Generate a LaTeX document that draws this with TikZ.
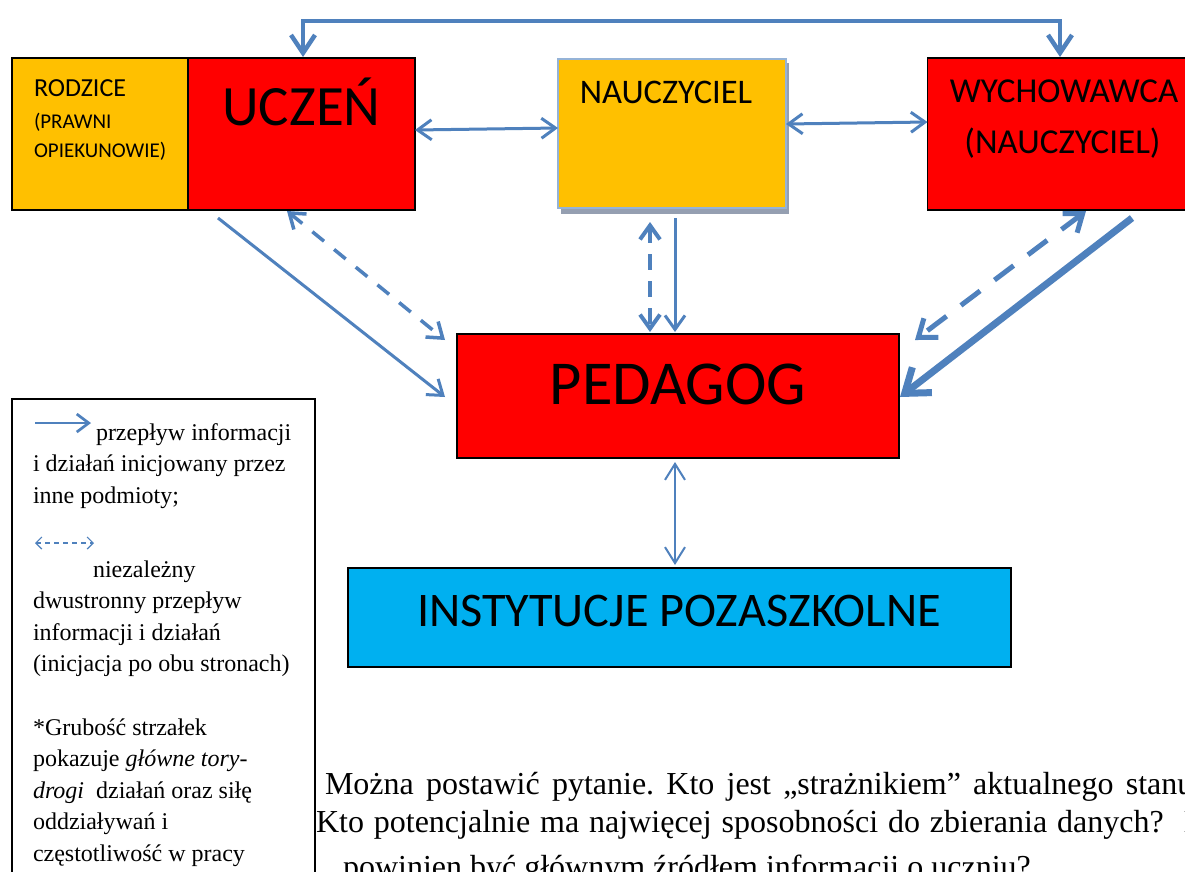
\documentclass[tikz,border=0pt]{standalone}
\usepackage{fontspec}
\setmainfont{Liberation Serif}
\newfontfamily\calfont{Carlito}
\usetikzlibrary{arrows.meta,calc}
\definecolor{ablue}{HTML}{4F81BD}
\definecolor{bred}{HTML}{FF0000}
\definecolor{borange}{HTML}{FFC000}
\definecolor{bcyan}{HTML}{00B0F0}
\definecolor{nborder}{HTML}{95B3D7}
\definecolor{nshadow}{HTML}{959FB1}
\tikzset{
  box/.style={draw=black, line width=1.5pt, inner sep=0pt, outer sep=0pt, anchor=north west},
  lbl/.style={inner sep=0pt, outer sep=0pt, anchor=base, font=\calfont},
  leg/.style={inner sep=0pt, outer sep=0pt, anchor=base west, font=\fontsize{24}{28}\selectfont},
  body/.style={inner sep=0pt, outer sep=0pt, anchor=base west, font=\fontsize{32}{38}\selectfont},
  arr/.style={draw=ablue, line width=3pt, line join=round, >={Straight Barb[length=14pt,width=20pt]}},
  arrtop/.style={draw=ablue, line width=4.5pt, line join=miter, >={Straight Barb[length=18pt,width=24pt]}},
  arrthin/.style={draw=ablue, line width=2pt, >={Straight Barb[length=16pt,width=20pt]}},
  arrthick/.style={draw=ablue, line width=7pt, >={Straight Barb[length=22pt,width=32pt]}},
  dsha/.style={draw=ablue, line width=3.5pt, dash pattern=on 15pt off 13pt, >={Straight Barb[length=14pt,width=20pt]}},
  dshb/.style={draw=ablue, line width=4pt, dash pattern=on 16pt off 11pt, >={Straight Barb[length=14pt,width=20pt]}},
  dshc/.style={draw=ablue, line width=5pt, dash pattern=on 24pt off 18pt, >={Straight Barb[length=16pt,width=24pt]}},
}
\begin{document}
\begin{tikzpicture}[x=1pt,y=-1pt]
\useasboundingbox (0,0) rectangle (1185,871);
\fill[white] (0,0) rectangle (1185,871);

% boxes
\node[box, fill=borange, minimum width=176pt, minimum height=152pt] (rodzice) at (12,58) {};
\node[box, fill=bred, minimum width=227pt, minimum height=152pt] (uczen) at (188,58) {};
\fill[nshadow] (561,63) rectangle (789,214);
\node[box, draw=nborder, line width=2pt, fill=borange, minimum width=228pt, minimum height=149pt] (naucz) at (558,59) {};
\node[box, fill=bred, minimum width=272pt, minimum height=152pt] (wych) at (927.5,58) {};
\node[box, fill=bred, minimum width=442pt, minimum height=124pt] (ped) at (457,334) {};
\node[box, fill=bcyan, minimum width=663pt, minimum height=99pt] (inst) at (348,568) {};
\node[box, line width=1.5pt, minimum width=303pt, minimum height=520pt] (legend) at (12,399) {};

% box labels
\node[lbl, anchor=base west, font=\calfont\fontsize{26}{30}\selectfont] (t1) at (34,96) {RODZICE};
\node[lbl, anchor=base west, font=\calfont\fontsize{21}{25}\selectfont] (t2) at (34,128.5) {(PRAWNI};
\node[lbl, anchor=base west, font=\calfont\fontsize{21}{25}\selectfont] (t3) at (34,157) {OPIEKUNOWIE)};
\node[lbl, font=\calfont\fontsize{57}{62}\selectfont] (t4) at (301.5,125) {UCZEŃ};
\node[lbl, font=\calfont\fontsize{34.5}{40}\selectfont] (t5) at (666,103) {NAUCZYCIEL};
\node[lbl, font=\calfont\fontsize{35}{40}\selectfont] (t6) at (1064,102) {WYCHOWAWCA};
\node[lbl, font=\calfont\fontsize{35}{40}\selectfont] (t7) at (1062.5,153) {(NAUCZYCIEL)};
\node[lbl, font=\calfont\fontsize{62.5}{68}\selectfont] (t8) at (678,404) {PEDAGOG};
\node[lbl, font=\calfont\fontsize{48.3}{54}\selectfont] (t9) at (679,626) {INSTYTUCJE POZASZKOLNE};

% connectors
\draw[arrtop,<->] ($(uczen.north west)+(115,-1)$) -- ++(0,-36) -| ($(wych.north west)+(132.5,-1)$);
\draw[arr,<->] (uczen.east |- 0,130) -- (naucz.west |- 0,128);
\draw[arr,<->] (naucz.east |- 0,124) -- (wych.west |- 0,122);
\draw[arr,->] ($(uczen.south west)+(30,8)$) -- ($(ped.north west)+(-12,63)$);
\draw[dsha,<->] ($(uczen.south west)+(99,1)$) -- ($(ped.north west)+(-12,6)$);
\draw[dshb,<->] ($(naucz.south west)+(92,14)$) -- ($(ped.north west)+(193,-2)$);
\draw[arr,->] ($(naucz.south west)+(117,10)$) -- ($(ped.north west)+(218,-2)$);
\draw[dshc,<->] ($(wych.south west)+(158.5,1)$) -- ($(ped.north east)+(16,6)$);
\draw[arrthick,->] ($(wych.south west)+(204.5,8)$) -- ($(ped.north east)+(1,63)$);
\draw[arrthin,<->] ($(ped.south west)+(218,4)$) -- ($(inst.north west)+(327,-3)$);

% legend
\coordinate (la1) at (35,423);
\coordinate (la2) at (91,423);
\draw[draw=ablue, line width=2.7pt, ->, >={Straight Barb[length=12pt,width=18pt]}] (la1) -- (la2);
\coordinate (lb1) at (35,543);
\coordinate (lb2) at (94,543);
\draw[draw=ablue, line width=1.2pt, dash pattern=on 5pt off 4pt, <->, >={Straight Barb[length=6pt,width=12pt]}] (lb1) -- (lb2);
\node[leg] (l1) at (96,440) {przepływ informacji};
\node[leg] (l2) at (33,471.5) {i działań inicjowany przez};
\node[leg] (l3) at (33,503) {inne podmioty;};
\node[leg] (l4) at (93,577) {niezależny};
\node[leg] (l5) at (33,608.5) {dwustronny przepływ};
\node[leg] (l6) at (33,640) {informacji i działań};
\node[leg] (l7) at (33,671.5) {(inicjacja po obu stronach)};
\node[leg] (l8) at (33,735) {*Grubość strzałek};
\node[leg] (l9) at (33,766.5) {pokazuje \textit{główne tory-}};
\node[leg] (l10) at (33,798) {\textit{drogi}\hspace{12pt}działań oraz siłę};
\node[leg] (l11) at (33,829.5) {oddziaływań i};
\node[leg] (l12) at (33,861) {częstotliwość w pracy};

% body text
\node[body] (b1) at (325,794) {\frenchspacing\spaceskip=12.2pt Można postawić pytanie. Kto jest „strażnikiem” aktualnego stanu};
\node[body] (b2) at (316,832) {\frenchspacing\spaceskip=9.9pt Kto potencjalnie ma najwięcej sposobności do zbierania danych?\hspace{20pt}K};
\node[body] (b3) at (343,877) {powinien być głównym źródłem informacji o uczniu?};
\end{tikzpicture}
\end{document}
